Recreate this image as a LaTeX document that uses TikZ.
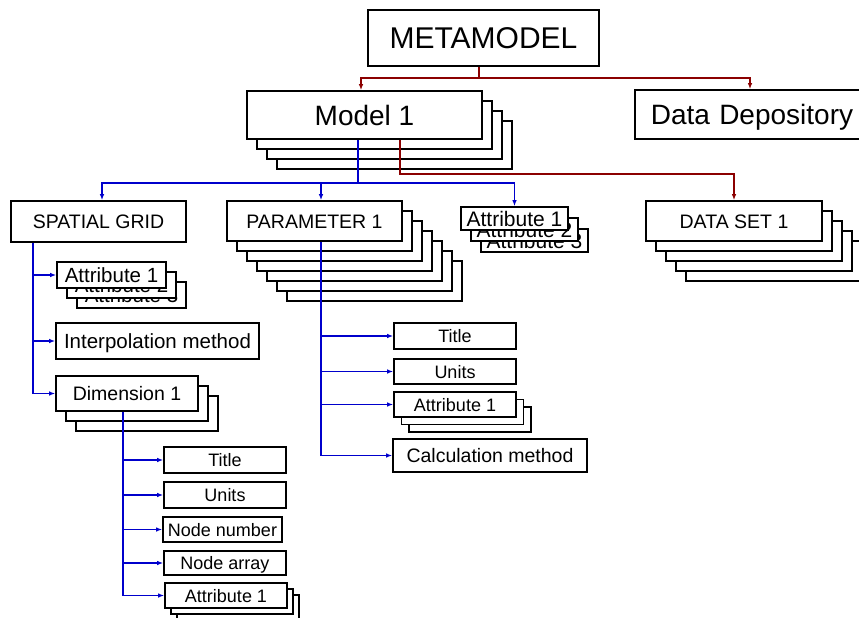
\documentclass[tikz,border=0pt]{standalone}
\usepackage{fontspec}
\setmainfont{Liberation Sans}
\usetikzlibrary{arrows.meta}
\definecolor{linkblue}{HTML}{0000CC}
\definecolor{linkred}{HTML}{8B0000}
\begin{document}
\begin{tikzpicture}[x=1pt,y=-1pt,
  card/.style={draw=black, fill=white, line width=1.6pt, inner sep=0pt, text depth=0pt},
  bl/.style={draw=linkblue, line width=1.5pt},
  rd/.style={draw=linkred, line width=1.5pt},
  tip/.style={-{Latex[length=6pt,width=4.5pt]}},
  fmeta/.style={font=\fontsize{30}{30}\selectfont, text height=21.5pt},
  fmodel/.style={font=\fontsize{28}{28}\selectfont, text height=20pt},
  fbig/.style={font=\fontsize{19.5}{19.5}\selectfont, text height=14pt},
  fattr/.style={font=\fontsize{20.5}{20.5}\selectfont, text height=14.7pt},
  fsmall/.style={font=\fontsize{18}{18}\selectfont, text height=13pt}
]
\path[use as bounding box] (0,0) rectangle (859,618);
\clip (0,0) rectangle (859,618);

% ---- top level
\node[card, fmeta, minimum width=231pt, minimum height=56pt] (meta) at (483.5,38) {METAMODEL};

\foreach \i in {3,2,1}
  \node[card, minimum width=235pt, minimum height=48pt] (models\i) at ({364.5+10*\i},{115+10*\i}) {};
\node[card, fmodel, minimum width=235pt, minimum height=48pt] (model) at (364.5,115) {Model 1};

\node[card, fmodel, anchor=west, minimum height=49pt, text width=226pt, inner xsep=16pt, align=left] (depo) at (634,114.5) {Data Depository};

% ---- second level
\node[card, fbig, minimum width=175pt, minimum height=41pt] (spatial) at (98.5,221.5) {SPATIAL GRID};

\foreach \i in {6,5,4,3,2,1}
  \node[card, minimum width=175pt, minimum height=40pt] (params\i) at ({314.5+10*\i},{221+10*\i}) {};
\node[card, fbig, minimum width=175pt, minimum height=40pt] (param) at (314.5,221) {PARAMETER 1};

\node[card, font=\fontsize{21}{21}\selectfont, text height=15pt, minimum width=107pt, minimum height=23pt] (attrTs2) at (534.5,240.5) {Attribute 3};
\node[card, font=\fontsize{21}{21}\selectfont, text height=15pt, minimum width=107pt, minimum height=23pt] (attrTs1) at (524.5,229.5) {Attribute 2};
\node[card, font=\fontsize{21}{21}\selectfont, text height=15pt, minimum width=107pt, minimum height=23pt] (attrT) at (514.5,218.5) {Attribute 1};

\foreach \i in {4,3,2,1}
  \node[card, minimum width=176pt, minimum height=40pt] (datasets\i) at ({734+10*\i},{221+10*\i}) {};
\node[card, fbig, minimum width=176pt, minimum height=40pt] (dataset) at (734,221) {DATA SET 1};

% ---- spatial grid children
\node[card, fattr, minimum width=109pt, minimum height=26pt] (attrLs2) at (131.5,295) {Attribute 3};
\node[card, fattr, minimum width=109pt, minimum height=26pt] (attrLs1) at (121.5,285) {Attribute 2};
\node[card, fattr, minimum width=109pt, minimum height=26pt] (attrL) at (111.5,275) {Attribute 1};

\node[card, fattr, minimum width=203pt, minimum height=36pt] (interp) at (157.5,341) {Interpolation method};

\foreach \i in {2,1}
  \node[card, minimum width=142pt, minimum height=35pt] (dims\i) at ({127+10*\i},{393.5+10*\i}) {};
\node[card, fbig, minimum width=142pt, minimum height=35pt] (dim) at (127,393.5) {Dimension 1};

% ---- dimension children
\node[card, fsmall, minimum width=122pt, minimum height=26pt] (dTitle) at (225,460) {Title};
\node[card, fsmall, minimum width=122pt, minimum height=26pt] (dUnits) at (225,495) {Units};
\node[card, fsmall, minimum width=119pt, minimum height=25pt] (dNum) at (222.5,529.5) {Node number};
\node[card, fsmall, minimum width=122pt, minimum height=24pt] (dArr) at (225,563) {Node array};
\foreach \i in {2,1}
  \node[card, minimum width=122pt, minimum height=25pt] (dAttrs\i) at ({226+6*\i},{595.5+6*\i}) {};
\node[card, fsmall, minimum width=122pt, minimum height=25pt] (dAttr) at (226,595.5) {Attribute 1};

% ---- parameter children
\node[card, fsmall, minimum width=122pt, minimum height=26pt] (pTitle) at (455,336) {Title};
\node[card, fsmall, minimum width=122pt, minimum height=25pt] (pUnits) at (455,371.5) {Units};
\foreach \i in {2,1}
  \node[card, minimum width=122pt, minimum height=25pt] (pAttrs\i) at ({455+7.5*\i},{404.5+7.5*\i}) {};
\node[card, fsmall, minimum width=122pt, minimum height=25pt] (pAttr) at (455,404.5) {Attribute 1};
\node[card, fbig, minimum width=194pt, minimum height=33pt] (pCalc) at (490,455.5) {Calculation method};

% ---- red connectors
\coordinate (rj) at (479,78);
\draw[rd] (rj |- meta.south) -- (rj);
\draw[rd,tip] (rj) -| ([xshift=-3.5pt]model.north);
\draw[rd,tip] (rj) -| ([xshift=116pt]depo.north west);
\coordinate (rk) at (734,174);
\draw[rd,tip] ([xshift=35.5pt]model.south) |- (rk) -- (dataset.north);

% ---- blue connectors
\coordinate (bj) at (358,183);
\draw[bl] ([xshift=-6.5pt]model.south) -- (bj);
\draw[bl,tip] (bj) -| ([xshift=3.5pt]spatial.north);
\draw[bl,tip] (bj) -| ([xshift=6.5pt]param.north);
\draw[bl,tip] (bj) -| (attrT.north);

\draw[bl,tip] ([xshift=-65.5pt]spatial.south) |- (attrL.west);
\draw[bl,tip] ([xshift=-65.5pt]spatial.south) |- (interp.west);
\draw[bl,tip] ([xshift=-65.5pt]spatial.south) |- (dim.west);

\draw[bl,tip] ([xshift=6.5pt]param.south) |- (pTitle.west);
\draw[bl,tip] ([xshift=6.5pt]param.south) |- (pUnits.west);
\draw[bl,tip] ([xshift=6.5pt]param.south) |- (pAttr.west);
\draw[bl,tip] ([xshift=6.5pt]param.south) |- (pCalc.west);

\draw[bl,tip] ([xshift=-4pt]dim.south) |- (dTitle.west);
\draw[bl,tip] ([xshift=-4pt]dim.south) |- (dUnits.west);
\draw[bl,tip] ([xshift=-4pt]dim.south) |- (dNum.west);
\draw[bl,tip] ([xshift=-4pt]dim.south) |- (dArr.west);
\draw[bl,tip] ([xshift=-4pt]dim.south) |- (dAttr.west);
\end{tikzpicture}
\end{document}
